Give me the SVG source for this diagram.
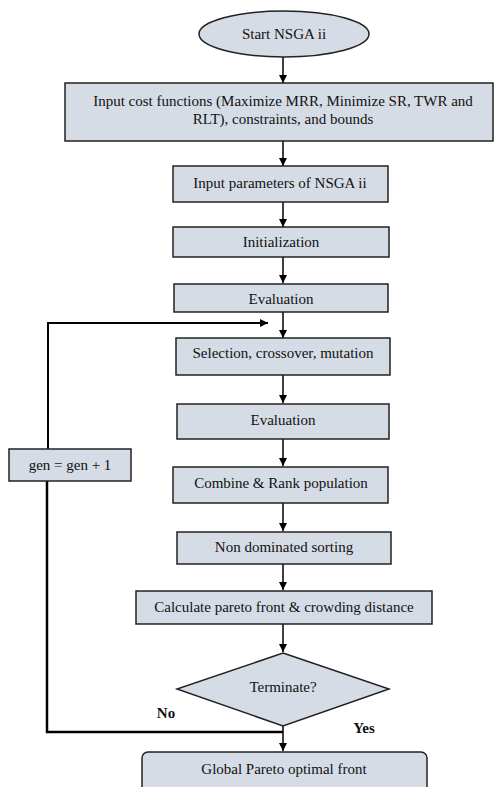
<svg xmlns="http://www.w3.org/2000/svg" width="494" height="787" viewBox="0 0 494 787">
<style>
.n{fill:#d6dce5;stroke:#222;stroke-width:1.5}
.t{font-family:'Liberation Serif','Times New Roman',serif;font-size:15px;fill:#111;text-anchor:middle;dominant-baseline:central}
.b{font-weight:bold}
.c{fill:none;stroke:#000;stroke-width:1.5}
.lp{fill:none;stroke:#000;stroke-width:2.5}
</style>
<defs>
<marker id="ah" markerWidth="8" markerHeight="8" refX="8" refY="4" orient="auto" markerUnits="userSpaceOnUse">
<path d="M0,0 L8,4 L0,8 z" fill="#000"/>
</marker>
</defs>
<rect width="494" height="787" fill="#fff"/>
<g id="connectors">
<line class="c" x1="283" y1="57" x2="283" y2="83" marker-end="url(#ah)"/>
<line class="c" x1="283" y1="141" x2="283" y2="166" marker-end="url(#ah)"/>
<line class="c" x1="283" y1="202" x2="283" y2="227" marker-end="url(#ah)"/>
<line class="c" x1="283" y1="257" x2="283" y2="283" marker-end="url(#ah)"/>
<line class="c" x1="283" y1="312" x2="283" y2="338" marker-end="url(#ah)"/>
<line class="c" x1="283" y1="375" x2="283" y2="403" marker-end="url(#ah)"/>
<line class="c" x1="283" y1="439" x2="283" y2="466" marker-end="url(#ah)"/>
<line class="c" x1="283" y1="503" x2="283" y2="531" marker-end="url(#ah)"/>
<line class="c" x1="283" y1="564" x2="283" y2="590" marker-end="url(#ah)"/>
<line class="c" x1="283" y1="624" x2="283" y2="652" marker-end="url(#ah)"/>
<line class="c" x1="283" y1="726" x2="283" y2="751" marker-end="url(#ah)"/>
<polyline class="lp" points="283,732 47,732 47,481"/>
<polyline class="c" style="stroke-width:2" points="48,449 48,323 268,323" marker-end="url(#ah)"/>
</g>
<g id="start">
<ellipse class="n" cx="284" cy="34" rx="85" ry="23"/>
<text class="t" x="284" y="34">Start NSGA ii</text>
</g>
<g id="input-cost">
<rect class="n" x="65" y="83" width="428" height="58"/>
<text class="t" x="283" y="101">Input cost functions (Maximize MRR, Minimize SR, TWR and</text>
<text class="t" x="283" y="119">RLT), constraints, and bounds</text>
</g>
<g id="input-params">
<rect class="n" x="173" y="166" width="215" height="36"/>
<text class="t" x="280" y="183">Input parameters of NSGA ii</text>
</g>
<g id="init">
<rect class="n" x="173" y="227" width="216" height="30"/>
<text class="t" x="281" y="242">Initialization</text>
</g>
<g id="eval1">
<rect class="n" x="174" y="284" width="214" height="28"/>
<text class="t" x="281" y="299">Evaluation</text>
</g>
<g id="selection">
<rect class="n" x="176" y="338" width="214" height="37"/>
<text class="t" x="283" y="353">Selection, crossover, mutation</text>
</g>
<g id="eval2">
<rect class="n" x="177" y="404" width="212" height="35"/>
<text class="t" x="283" y="420">Evaluation</text>
</g>
<g id="gen">
<rect class="n" x="9" y="449" width="122" height="32"/>
<text class="t" x="70" y="465">gen = gen + 1</text>
</g>
<g id="combine">
<rect class="n" x="173" y="467" width="215" height="36"/>
<text class="t" x="281" y="483">Combine &amp; Rank population</text>
</g>
<g id="nondom">
<rect class="n" x="177" y="532" width="214" height="32"/>
<text class="t" x="284" y="547">Non dominated sorting</text>
</g>
<g id="pareto">
<rect class="n" x="136" y="591" width="296" height="33"/>
<text class="t" x="284" y="607">Calculate pareto front &amp; crowding distance</text>
</g>
<g id="terminate">
<polygon class="n" points="283,653 389,689 283,726 177,689"/>
<text class="t" x="283" y="687">Terminate?</text>
</g>
<g id="global">
<rect class="n" x="142" y="752" width="285" height="50" rx="6"/>
<text class="t" x="284" y="769">Global Pareto optimal front</text>
</g>
<g id="labels">
<text class="t b" x="166" y="713">No</text>
<text class="t b" x="364" y="728">Yes</text>
</g>
</svg>
